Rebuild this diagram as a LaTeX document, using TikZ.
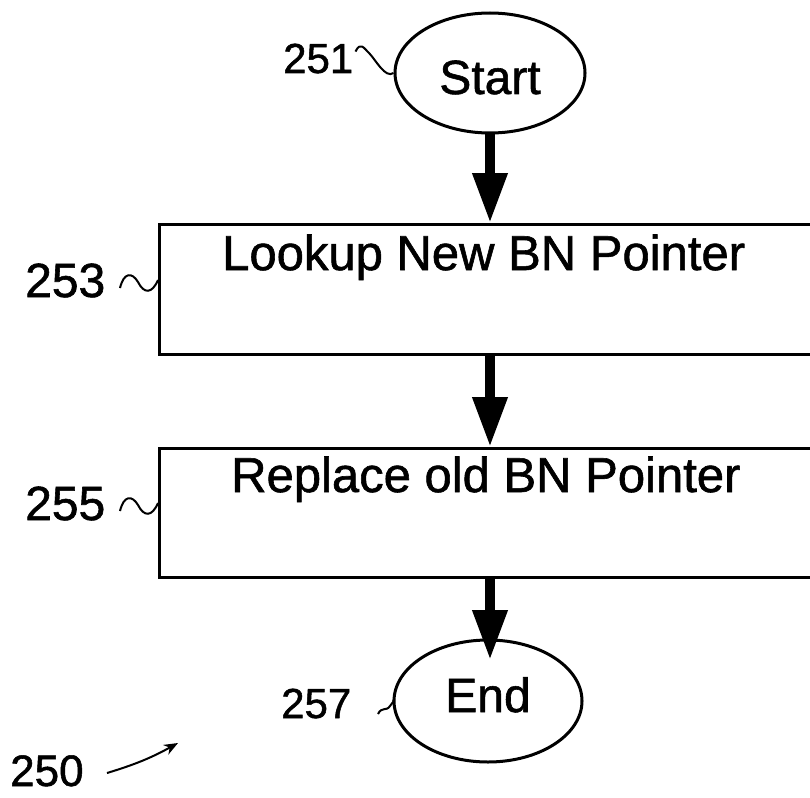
\documentclass[tikz,border=0pt]{standalone}
\usepackage{fontspec}
\setmainfont{Liberation Sans}[FakeBold=1.2]
\usetikzlibrary{shapes.geometric,arrows.meta}
\tikzset{
  bigfont/.style={font=\fontsize{49}{53}\selectfont},
  numfont/.style={font=\fontsize{48}{52}\selectfont},
  smallnum/.style={font=\fontsize{42}{46}\selectfont},
  term/.style={ellipse, draw, line width=3pt, inner sep=0pt, font=\fontsize{48}{52}\selectfont},
  procbox/.style={rectangle, draw, line width=3pt, anchor=north west, inner sep=0pt},
  txt/.style={inner sep=0pt, anchor=base west},
  flow/.style={line width=10pt, -{Triangle[length=50pt, width=33pt]}},
  squig/.style={line width=2pt},
  refarrow/.style={line width=2pt, -{Stealth[length=14pt, width=11pt]}}
}
\begin{document}
\begin{tikzpicture}[x=1pt, y=-1pt]
\useasboundingbox (0,0) rectangle (810,797);
\clip (0,0) rectangle (810,797);
% terminals
\node[term, minimum width=190pt, minimum height=120pt, text height=42pt, text depth=0pt] (start) at (490,73) {Start};
\node[term, minimum width=188pt, minimum height=122pt, text height=34.5pt, text depth=12.5pt] (end) at (488,701) {End};
% process boxes
\node[procbox, minimum width=700pt, minimum height=130pt] (box1) at (158,223) {};
\node[procbox, minimum width=700pt, minimum height=129pt] (box2) at (158,447) {};
\node[txt, bigfont] (t1) at (222,270) {Lookup New BN Pointer};
\node[txt, bigfont] (t2) at (231,492) {Replace old BN Pointer};
% reference numerals
\node[txt, smallnum] (n251) at (283,73) {251};
\node[txt, numfont] (n253) at (25,297) {253};
\node[txt, numfont] (n255) at (25,520) {255};
\node[txt, smallnum] (n257) at (281,718) {257};
\node[txt, font=\fontsize{44}{48}\selectfont] (n250) at (10,786) {250};
% connectors
\coordinate (a1s) at (490,133);
\coordinate (a1e) at (490,223);
\coordinate (a2s) at (490,353);
\coordinate (a2e) at (490,447);
\coordinate (a3s) at (490,576);
\coordinate (a3e) at (490,660);
\draw[flow] (a1s) -- (a1e);
\draw[flow] (a2s) -- (a2e);
\draw[flow] (a3s) -- (a3e);
% squiggle leaders
\draw[squig] (n251.east) ++(2,-7) .. controls +(5,-10) and +(-6,-6) .. ++(14,2) .. controls +(6,6) and +(-8,6) .. (start.west);
\draw[squig] (120,288) .. controls (124,272) and (132,272) .. (138,282) .. controls (144,294) and (152,294) .. (box1.west |- 0,280);
\draw[squig] (120,511) .. controls (124,495) and (132,495) .. (138,505) .. controls (144,517) and (152,517) .. (box2.west |- 0,503);
\draw[squig] (378,714) .. controls (382,706) and (386,712) .. (390,706) .. controls (393,702) and (395,700) .. (end.west |- 0,700);
% figure reference arrow
\coordinate (r250s) at (107,773);
\coordinate (r250e) at (178,743);
\draw[refarrow] (r250s) to[bend right=6] (r250e);
\end{tikzpicture}
\end{document}
